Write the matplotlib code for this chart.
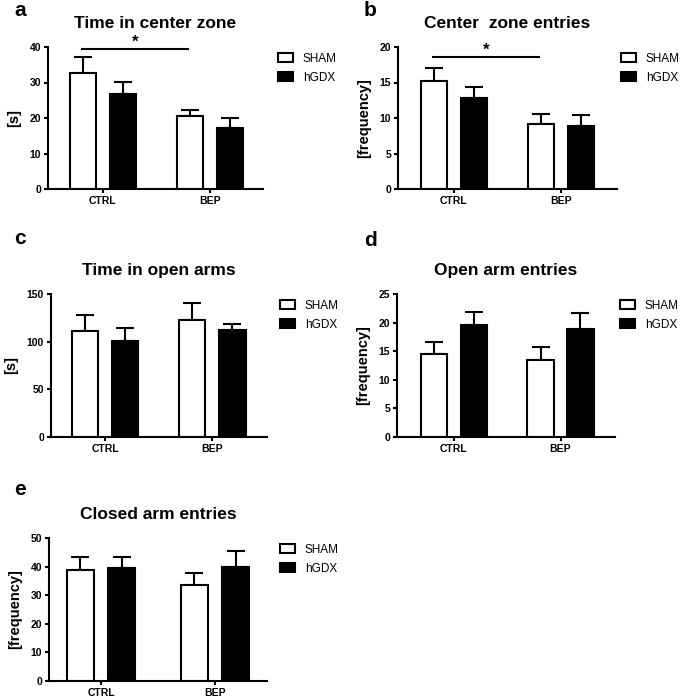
import matplotlib
matplotlib.use("Agg")
import matplotlib.pyplot as plt
from matplotlib.patches import Patch

plt.rcParams['font.family'] = ['Liberation Sans', 'DejaVu Sans']

groups = ['CTRL', 'BEP']
series = ['SHAM', 'hGDX']

# a - time in center zone
center_time_mean = [[32.7, 20.5], [26.8, 17.3]]
center_time_top = [[37.2, 22.3], [30.1, 20.1]]
# b - center zone entries
center_entries_mean = [[15.2, 9.2], [12.8, 8.9]]
center_entries_top = [[17.1, 10.6], [14.3, 10.4]]
# c - time in open arms
open_time_mean = [[111, 123], [101, 112]]
open_time_top = [[128, 141], [114, 119]]
# d - open arm entries
open_entries_mean = [[14.5, 13.5], [19.5, 18.9]]
open_entries_top = [[16.6, 15.8], [21.8, 21.7]]
# e - closed arm entries
closed_entries_mean = [[38.7, 33.4], [39.4, 40.0]]
closed_entries_top = [[43.2, 37.7], [43.5, 45.5]]

W, H = 685, 697
fig = plt.figure(figsize=(W / 100, H / 100), dpi=100)


def px_axes(left, right, top, bottom):
    return fig.add_axes([left / W, 1 - bottom / H, (right - left) / W, (bottom - top) / H])


def panel(box, letter, letter_xy, title, ylabel, means, tops, ymax, ystep, xlim,
          legend_x, width=0.245, offset=0.187, sig=None):
    ax = px_axes(*box)
    colors = ['white', 'black']
    for i in range(2):
        xs = [g + (offset if i else -offset) for g in range(len(groups))]
        ax.bar(xs, means[i], width=width, color=colors[i], edgecolor='black',
               linewidth=1.5, zorder=2)
        err = [t - m for t, m in zip(tops[i], means[i])]
        ax.errorbar(xs, means[i], yerr=[[0] * len(xs), err], fmt='none',
                    ecolor='black', elinewidth=1.5, capsize=6.5, capthick=1.5, zorder=1)
    ax.set_xlim(*xlim)
    ax.set_ylim(0, ymax)
    ax.set_yticks(range(0, ymax + 1, ystep))
    ax.set_xticks(range(len(groups)))
    ax.set_xticklabels(groups)
    for s in ['top', 'right']:
        ax.spines[s].set_visible(False)
    for s in ['left', 'bottom']:
        ax.spines[s].set_linewidth(1.5)
    ax.tick_params(width=1.5, length=3, labelsize=7.5, pad=2)
    for lab in ax.get_xticklabels() + ax.get_yticklabels():
        lab.set_fontweight('bold')
    ax.set_ylabel(ylabel, fontsize=10.5, fontweight='bold', labelpad=6)
    ax.set_title(title, fontsize=12.5, fontweight='bold', pad=14)
    if sig is not None:
        x0, x1, y = sig
        ax.plot([x0, x1], [y, y], color='black', lw=1.5, clip_on=False)
        ax.annotate('*', ((x0 + x1) / 2, y), xytext=(0, 5), textcoords='offset points',
                    ha='center', va='center', fontsize=12, fontweight='bold')
    handles = [Patch(facecolor='white', edgecolor='black', linewidth=1.5, label='SHAM'),
               Patch(facecolor='black', edgecolor='black', linewidth=1.5, label='hGDX')]
    ax.legend(handles=handles, loc='upper left',
              bbox_to_anchor=(legend_x / W, 1 - (box[2] + 6) / H),
              bbox_transform=fig.transFigure, borderaxespad=0, borderpad=0,
              frameon=False, fontsize=8.5, handlelength=1.3, handleheight=0.8,
              handletextpad=0.8, labelspacing=0.6)
    fig.text(letter_xy[0] / W, 1 - letter_xy[1] / H, letter, fontsize=15,
             fontweight='bold', ha='left', va='baseline')
    return ax


panel((48, 263, 47, 189), 'a', (14, 16), 'Time in center zone', '[s]',
      center_time_mean, center_time_top, 40, 10, (-0.514, 1.50), 278,
      sig=(-0.196, 0.794, 39.4))
panel((398, 617, 47, 189), 'b', (364, 16), 'Center  zone entries', '[frequency]',
      center_entries_mean, center_entries_top, 20, 5, (-0.52, 1.52), 621,
      sig=(-0.196, 0.794, 18.6))
panel((51, 267, 294, 437), 'c', (14, 244), 'Time in open arms', '[s]',
      open_time_mean, open_time_top, 150, 50, (-0.505, 1.51), 280)
panel((397, 615, 294, 437), 'd', (364, 246), 'Open arm entries', '[frequency]',
      open_entries_mean, open_entries_top, 25, 5, (-0.53, 1.51), 620)
panel((49, 267, 538, 681), 'e', (14, 495), 'Closed arm entries', '[frequency]',
      closed_entries_mean, closed_entries_top, 50, 10, (-0.456, 1.456), 280,
      width=0.23, offset=0.18)

fig.savefig('out.png', dpi=100)
